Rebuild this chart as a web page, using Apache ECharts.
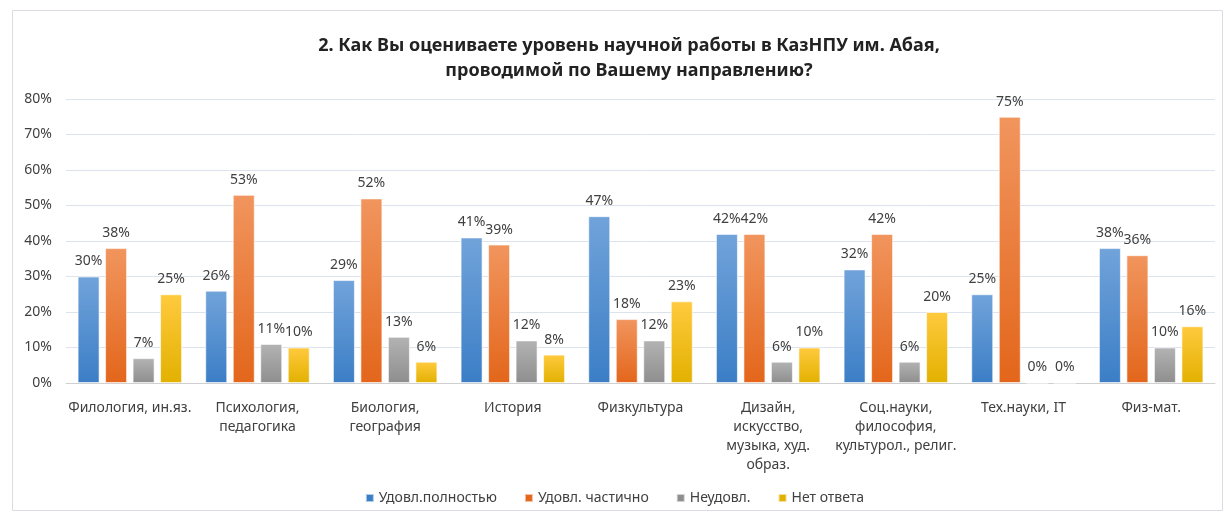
<!DOCTYPE html>
<html>
<head>
    <meta charset="utf-8">
    <title>ECharts</title>
    <script src="https://cdn.jsdelivr.net/npm/echarts@6/dist/echarts.min.js"></script>
    <style>
        html, body { width: 100%; height: 100%; margin: 0; background: #fff; }
        #main { width: 1229px; height: 519px; }
    </style>
</head>
<body>
    <div id="main"></div>
    <script type="text/javascript">
        var categories = ['Филология, ин.яз.', 'Психология,\nпедагогика', 'Биология,\nгеография', 'История',
            'Физкультура', 'Дизайн,\nискусство,\nмузыка, худ.\nобраз.', 'Соц.науки,\nфилософия,\nкультурол., религ.',
            'Тех.науки, IT', 'Физ-мат.'];
        var seriesNames = ['Удовл.полностью', 'Удовл. частично', 'Неудовл.', 'Нет ответа'];
        var fullySatisfied = [30, 26, 29, 41, 47, 42, 32, 25, 38];
        var partlySatisfied = [38, 53, 52, 39, 18, 42, 42, 75, 36];
        var notSatisfied = [7, 11, 13, 12, 12, 6, 6, 0, 10];
        var noAnswer = [25, 10, 6, 8, 23, 10, 20, 0, 16];

        var font = 'Noto Sans';
        var gradients = [
            ['#71a3da', '#3b7ec6'],
            ['#f1955e', '#e3661b'],
            ['#b3b3b3', '#8e8e8e'],
            ['#ffca3e', '#e2b100']
        ];
        var values = [fullySatisfied, partlySatisfied, notSatisfied, noAnswer];

        function grad(c) {
            return new echarts.graphic.LinearGradient(0, 0, 0, 1, [
                { offset: 0, color: c[0] }, { offset: 1, color: c[1] }
            ]);
        }

        var series = seriesNames.map(function (name, i) {
            return {
                name: name,
                type: 'bar',
                data: values[i],
                barWidth: 22,
                barGap: '25%',
                itemStyle: { color: grad(gradients[i]), borderColor: 'rgba(255,255,255,0.6)', borderWidth: 1 },
                label: {
                    show: true, position: 'top', distance: 8,
                    formatter: '{c}%', color: '#404040', fontSize: 14, fontFamily: font
                }
            };
        });

        var myChart = echarts.init(document.getElementById('main'));
        var option = {
            animation: false,
            title: {
                text: '2. Как Вы оцениваете уровень научной работы в КазНПУ им. Абая,\nпроводимой по Вашему направлению?',
                left: 624, top: 28, textAlign: 'center',
                textStyle: { fontFamily: font, fontSize: 18, fontWeight: 'bold', color: '#222', lineHeight: 25 }
            },
            legend: {
                bottom: 9, left: 'center', itemWidth: 8, itemHeight: 8, itemGap: 27, icon: 'rect',
                textStyle: { fontFamily: font, fontSize: 14, color: '#404040' },
                data: seriesNames.map(function (n, i) { return { name: n, itemStyle: { color: gradients[i][1] } }; })
            },
            grid: { left: 66, right: 14, top: 99, bottom: 136 },
            xAxis: {
                type: 'category', data: categories,
                axisTick: { show: false },
                axisLine: { lineStyle: { color: '#d0d0d0' } },
                axisLabel: { interval: 0, fontFamily: font, fontSize: 14, color: '#404040', lineHeight: 19, margin: 16 }
            },
            yAxis: {
                type: 'value', min: 0, max: 80, interval: 10,
                axisLabel: { formatter: '{value}%', fontFamily: font, fontSize: 14, color: '#404040', margin: 14 },
                splitLine: { lineStyle: { color: '#dde3ec' } }
            },
            graphic: [{
                type: 'rect', left: 10, top: 8, silent: true,
                shape: { width: 1210, height: 500 },
                style: { fill: 'none', stroke: '#d9dde3', lineWidth: 1 }
            }],
            series: series
        };
        myChart.setOption(option);
    </script>
</body>
</html>
